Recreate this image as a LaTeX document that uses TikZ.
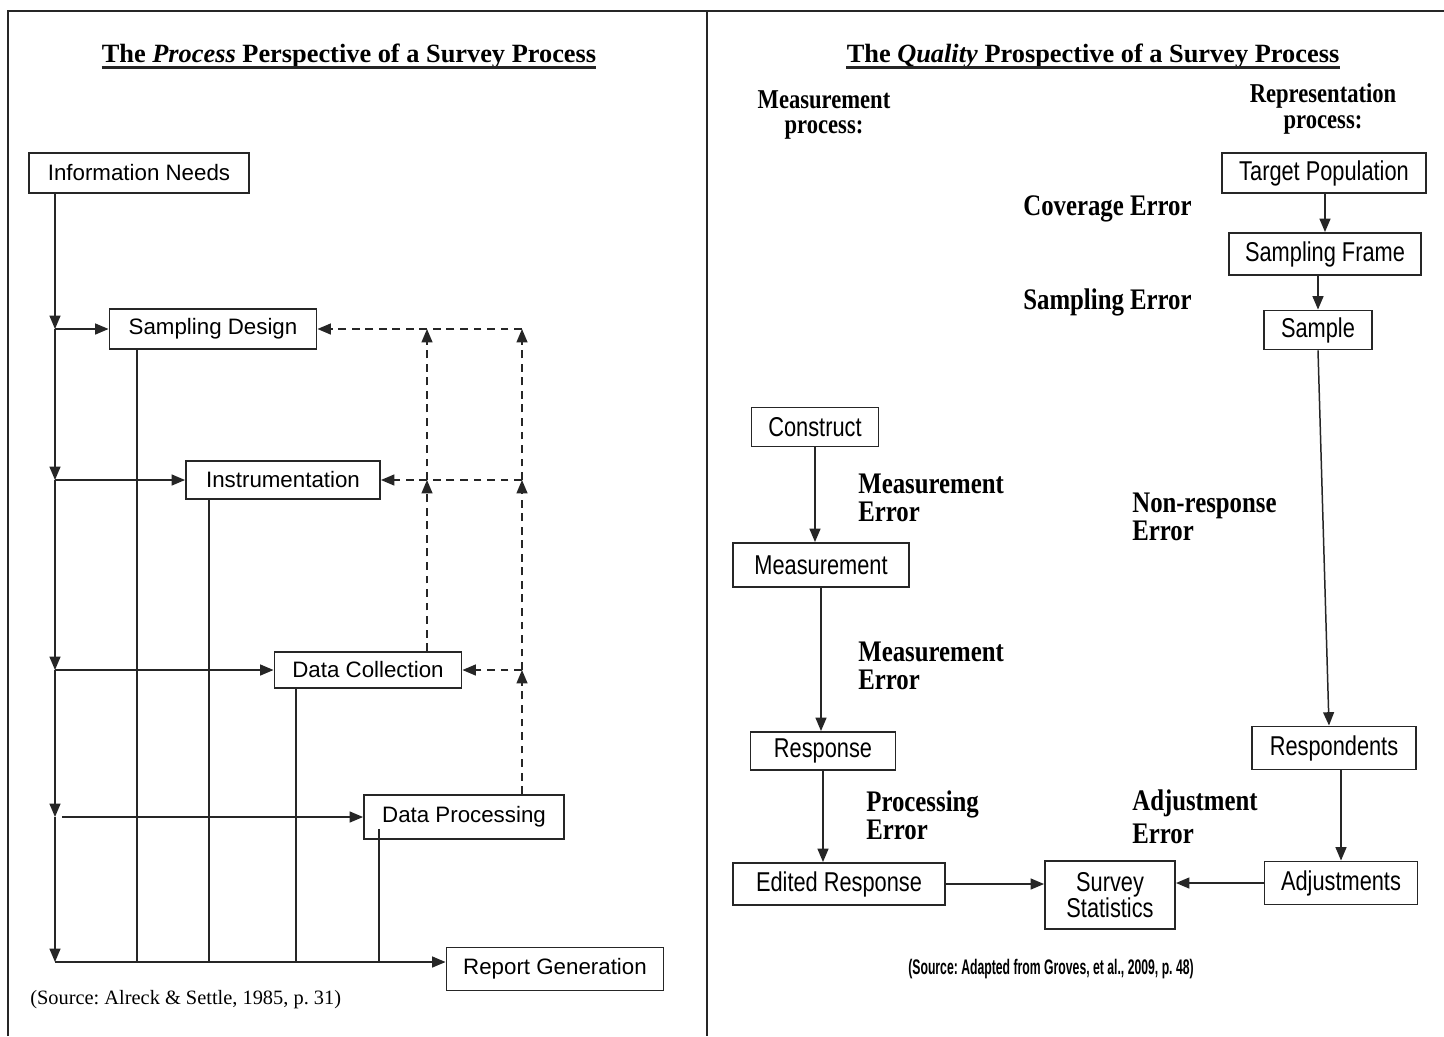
\documentclass[tikz,border=0pt]{standalone}
\usepackage{fontspec}
\setmainfont{Liberation Serif}
\setsansfont{Liberation Sans}
\newfontfamily\narrowsf[FakeStretch=0.8]{Liberation Sans}
\newfontfamily\narrowrm[FakeStretch=0.83]{Liberation Serif}
\newfontfamily\sourcesf[FakeStretch=0.58]{Liberation Sans}
\frenchspacing
\usepackage{tikz}
\usetikzlibrary{arrows.meta,positioning,calc}
\tikzset{
  nodebox/.style={
    rectangle,
    draw=black!85,
    line width=1.1pt,
    inner sep=0pt,
    align=center,
    font=\sffamily\fontsize{12.7}{15}\selectfont
  },
  nodebox2/.style={
    rectangle,
    draw=black!85,
    line width=1.1pt,
    inner sep=0pt,
    align=center,
    font=\narrowsf\fontsize{15.5}{14.5}\selectfont
  },
  titlelabel/.style={
    inner sep=0pt,
    font=\bfseries\fontsize{15}{17}\selectfont
  },
  headlabel/.style={
    inner sep=0pt,
    align=center,
    font=\narrowrm\bfseries\fontsize{15.5}{14.5}\selectfont
  },
  errlabel/.style={
    anchor=west,
    inner sep=0pt,
    align=left,
    font=\narrowrm\bfseries\fontsize{17}{16}\selectfont
  },
  flow/.style={-{Triangle[length=7.6pt,width=6.2pt]}, line width=0.85pt, black!85},
  dashflow/.style={flow, dash pattern=on 4.5pt off 3.2pt},
  plainline/.style={line width=0.85pt, black!85},
  uline/.style={line width=1.3pt, black!85},
  frame/.style={line width=1.4pt, black!85}
}

\begin{document}
\begin{tikzpicture}[x=0.02cm, y=-0.02cm]
\useasboundingbox (0,0) rectangle (1444,1036);
% panels
\draw[frame] (8,1036) -- (8,11) -- (1444,11);
\draw[frame] (707,11) -- (707,1036);

% left panel: process view
\node[titlelabel] (ltitle) at (349,56) {The \textit{Process} Perspective of a Survey Process};
\draw[uline] ($(ltitle.base west)+(0,5)$) -- ($(ltitle.base east)+(0,5)$);

\node[nodebox, minimum width=4.4cm, minimum height=0.8cm] (info) at (139,173) {Information Needs};
\node[nodebox, minimum width=4.14cm, minimum height=0.8cm] (sd) at (213,329) {Sampling Design};
\node[nodebox, minimum width=3.88cm, minimum height=0.76cm] (ins) at (283,480) {Instrumentation};
\node[nodebox, minimum width=3.74cm, minimum height=0.72cm] (dc) at (368,670) {Data Collection};
\node[nodebox, minimum width=4cm, minimum height=0.88cm] (dp) at (464,817) {Data Processing};
\node[nodebox, minimum width=4.34cm, minimum height=0.86cm] (rg) at (555,969) {Report Generation};

\coordinate (trunk) at (55,0);
\coordinate (b1) at (trunk |- sd.west);
\coordinate (b2) at (trunk |- ins.west);
\coordinate (b3) at (trunk |- dc.west);
\coordinate (b4) at (trunk |- dp.west);
\coordinate (b5) at (55,962);

\draw[flow] (info.south -| trunk) -- (b1);
\draw[flow] (b1) -- (b2);
\draw[flow] (b2) -- (b3);
\draw[flow] (b3) -- (b4);
\draw[flow] (b4) -- (b5);
\draw[flow] (b1) -- (sd.west);
\draw[flow] (b2) -- (ins.west);
\draw[flow] (b3) -- (dc.west);
\draw[flow] ([xshift=0.14cm]b4) -- (dp.west);
\draw[flow] (b5) -- (b5 -| rg.west);

% drops into the bottom line
\coordinate (d1) at (137,962);
\coordinate (d2) at (209,962);
\coordinate (d3) at (296,962);
\coordinate (d4) at (379,962);
\draw[plainline] (sd.south -| d1) -- (d1);
\draw[plainline] (ins.south -| d2) -- (d2);
\draw[plainline] (dc.south -| d3) -- (d3);
\draw[plainline] ([yshift=0.22cm]dp.south -| d4) -- (d4);

% feedback loops
\coordinate (u1) at (427,0);
\coordinate (u2) at (522,0);
\draw[dashflow] (dc.north -| u1) -- (u1 |- ins.east);
\draw[dashflow] (u1 |- ins.east) -- (u1 |- sd.east);
\draw[dashflow] (dp.north -| u2) -- (u2 |- dc.east);
\draw[dashflow] (u2 |- dc.east) -- (u2 |- ins.east);
\draw[dashflow] (u2 |- ins.east) -- (u2 |- sd.east);
\draw[dashflow] (u2 |- sd.east) -- (sd.east);
\draw[dashflow] (u2 |- ins.east) -- (ins.east);
\draw[dashflow] (u2 |- dc.east) -- (dc.east);

\node[anchor=west, inner sep=0pt, font=\fontsize{11.6}{13}\selectfont] (lsrc) at (30,1000) {(Source: Alreck \& Settle, 1985, p.~31)};

% right panel: quality view
\node[titlelabel] (rtitle) at (1093,56) {The \textit{Quality} Prospective of a Survey Process};
\draw[uline] ($(rtitle.base west)+(0,5)$) -- ($(rtitle.base east)+(0,5)$);

\node[headlabel] (mhead) at (824,115) {Measurement\\process:};
\node[headlabel] (rhead) at (1323,109) {Representation\\process:};

\node[nodebox2, minimum width=4.08cm, minimum height=0.8cm] (tp) at (1324,173) {Target Population};
\node[nodebox2, minimum width=3.84cm, minimum height=0.84cm] (sf) at (1325,254) {Sampling Frame};
\node[nodebox2, minimum width=2.16cm, minimum height=0.78cm] (smp) at (1318,330) {Sample};
\node[nodebox2, minimum width=3.28cm, minimum height=0.86cm] (resp) at (1334,748) {Respondents};
\node[nodebox2, minimum width=3.06cm, minimum height=0.86cm] (adj) at (1341,883) {Adjustments};
\node[nodebox2, minimum width=2.6cm, minimum height=1.36cm] (stat) at (1110,895) {Survey\\Statistics};
\node[nodebox2, minimum width=4.24cm, minimum height=0.84cm] (edr) at (839,884) {Edited Response};
\node[nodebox2, minimum width=2.9cm, minimum height=0.76cm] (rsp) at (823,751) {Response};
\node[nodebox2, minimum width=3.52cm, minimum height=0.88cm] (meas) at (821,565) {Measurement};
\node[nodebox2, minimum width=2.54cm, minimum height=0.78cm] (con) at (815,427) {Construct};

\node[errlabel] (cov) at (1023,209) {Coverage Error};
\node[errlabel] (serr) at (1023,302) {Sampling Error};
\node[errlabel] (me1) at (858,498) {Measurement\\Error};
\node[errlabel] (me2) at (858,666) {Measurement\\Error};
\node[errlabel] (nre) at (1132,517) {Non-response\\Error};
\node[errlabel] (pre) at (866,815) {Processing\\Error};
\node[errlabel, font=\narrowrm\bfseries\fontsize{17}{19}\selectfont] (ade) at (1132,817) {Adjustment\\Error};

\draw[flow] (tp.south -| sf.north) -- (sf.north);
\draw[flow] (smp.north |- sf.south) -- (smp.north);
\draw[flow] (smp.south) -- ([xshift=-0.1cm]resp.north);
\draw[flow] (resp.south -| adj.north) -- (adj.north);
\draw[flow] (con.south) -- (con.south |- meas.north);
\draw[flow] (meas.south) -- (meas.south |- rsp.north);
\draw[flow] (rsp.south) -- (rsp.south |- edr.north);
\draw[flow] (edr.east) -- (edr.east -| stat.west);
\draw[flow] (adj.west) -- (adj.west -| stat.east);

\node[inner sep=0pt, font=\sourcesf\bfseries\fontsize{12}{14}\selectfont] (rsrc) at (1051,969) {(Source: Adapted from Groves, et al., 2009, p.~48)};
\end{tikzpicture}
\end{document}
